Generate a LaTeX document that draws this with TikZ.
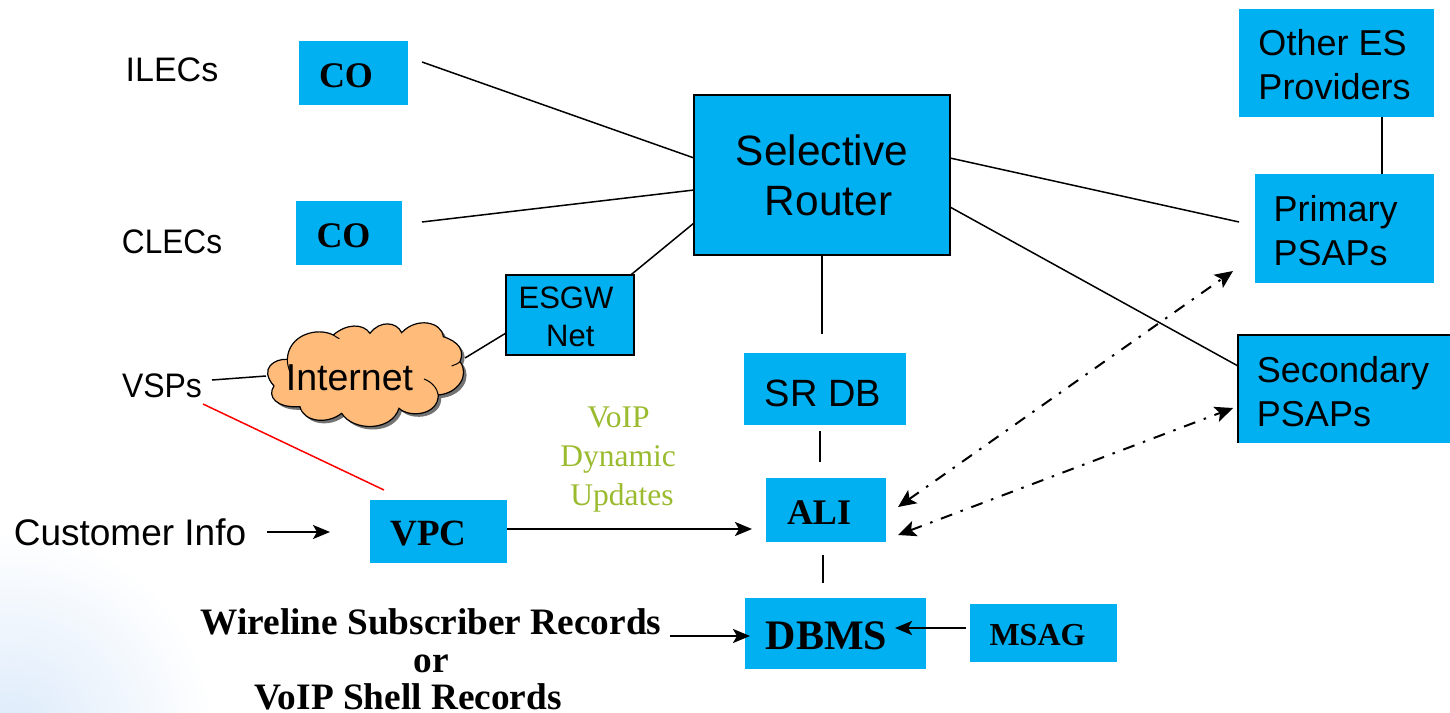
\documentclass[tikz,border=0pt]{standalone}
\usepackage{graphicx}
\usepackage{fontspec}
\setmainfont{Liberation Sans}
\newfontfamily\timesf{Liberation Serif}
\usetikzlibrary{arrows.meta}
\definecolor{cyanbox}{HTML}{00B0F0}
\definecolor{cloudfill}{HTML}{FFBB7A}
\definecolor{voipgreen}{HTML}{9BBB2F}
\definecolor{wash}{HTML}{DCEAFA}
\newcommand{\szs}[2]{\fontsize{#1}{#2}\selectfont}
\newcommand{\lbl}[3]{\raisebox{#2pt}[0pt][0pt]{\makebox[0pt]{\hspace{#1pt}\hspace{#1pt}#3}}}
\newcommand{\two}[2]{\begin{tabular}[t]{@{}l@{}}#1\\#2\end{tabular}}
\tikzset{
  x=1pt,y=-1pt,
  box/.style={fill=cyanbox,inner sep=0pt,outer sep=0pt,text=black},
  framed/.style={box,draw=black,line width=2pt},
  plain/.style={inner sep=0pt,outer sep=0pt,text=black},
  sans/.style={font=\szs{36}{44}},
  serifb/.style={font=\timesf\bfseries\szs{36}{40}},
  conn/.style={draw=black,line width=1.5pt},
  arr/.style={conn,line width=2pt,-{Stealth[length=17pt,width=14pt,inset=4pt]}},
  dd/.style={draw=black,line width=2pt,dash pattern=on 12pt off 9pt on 2.5pt off 9pt,{Stealth[length=18pt,width=16pt,inset=4pt]}-{Stealth[length=18pt,width=16pt,inset=4pt]}},
}
\begin{document}
\begin{tikzpicture}
\useasboundingbox (0,0) rectangle (1450,712);
% soft wash, lower-left corner
\fill[white] (0,0) rectangle (1450,712);
\begin{scope}
\clip (0,0) rectangle (1450,712);
\shade[inner color=wash,outer color=white] (10,735) circle (205);
\end{scope}

% free connector ends
\coordinate (srA) at (694,158);
\coordinate (srB) at (694,190);
\coordinate (srC) at (694,223);
\coordinate (srD) at (950,158);
\coordinate (srE) at (950,207);
\coordinate (co1e) at (422,62);
\coordinate (co2e) at (422,222);
\coordinate (priIn) at (1239,222);
\coordinate (secIn) at (1238,366);
\coordinate (srBot) at (822,255);
\coordinate (dbTop) at (822,334);
\coordinate (dbBot) at (820,431);
\coordinate (aliTop) at (820,462);
\coordinate (aliBot) at (823,555);
\coordinate (dbmsTop) at (823,583);
\coordinate (vspA) at (212,380);
\coordinate (cloudL) at (266,376);
\coordinate (cloudR) at (465,358);
\coordinate (esgwL) at (506,333);
\coordinate (esgwT) at (610,292);
\coordinate (vspR) at (203,404);
\coordinate (vpcR) at (384,490);
\coordinate (ciEnd) at (267,532);
\coordinate (ciTip) at (330,532);
\coordinate (vpcOut) at (507,529);
\coordinate (aliIn) at (752,529);
\coordinate (recOut) at (670,636);
\coordinate (dbmsIn) at (750,636);
\coordinate (msagOut) at (966,628);
\coordinate (dbmsR) at (895,628);
\coordinate (aliD1) at (898,507);
\coordinate (priD) at (1233,271);
\coordinate (aliD2) at (898,535);
\coordinate (secD) at (1233,408);
\coordinate (oesB) at (1382,117);
\coordinate (priT) at (1382,174);

% connectors under the boxes
\draw[conn] (co1e) -- (srA);
\draw[conn] (co2e) -- (srB);
\draw[conn] (esgwT) -- (srC);
\draw[conn] (srD) -- (priIn);
\draw[conn] (srE) -- (secIn);
\draw[conn] (srBot) -- (dbTop);
\draw[conn] (dbBot) -- (aliTop);
\draw[conn] (aliBot) -- (dbmsTop);
\draw[conn] (oesB) -- (priT);
\draw[conn] (vspA) -- (cloudL);
\draw[conn] (cloudR) -- (esgwL);
\draw[draw=red,line width=1.5pt] (vspR) -- (vpcR);

% boxes
\node[box,serifb,minimum width=109pt,minimum height=64pt] (co1) at (353.5,73) {\lbl{-7.5}{-14}{CO}};
\node[box,serifb,minimum width=106pt,minimum height=64pt] (co2) at (349,233) {\lbl{-5.5}{-14}{CO}};
\node[framed,minimum width=256pt,minimum height=160pt,font=\szs{42.4}{50}] (sr) at (822,175) {\lbl{0}{10}{\two{Selective}{\hspace*{29pt}Router}}};
\node[box,sans,minimum width=195pt,minimum height=108pt] (oes) at (1336.5,63) {\lbl{-2}{8}{\two{Other ES}{Providers}}};
\node[box,sans,minimum width=179pt,minimum height=109pt] (pri) at (1344.5,228.5) {\lbl{-9}{7.5}{\two{Primary}{PSAPs}}};
\node[box,sans,minimum width=212pt,minimum height=108pt] (sec) at (1344,389) {\lbl{-1}{7}{\two{Secondary}{PSAPs}}};
\draw[draw=black,line width=1.5pt] (sec.south west) -- (sec.north west) -- (sec.north east);
\node[framed,minimum width=128pt,minimum height=80pt,font=\szs{31}{38}] (esgw) at (570,315) {\lbl{-4}{7}{\begin{tabular}[t]{@{}c@{}}ESGW\\ \ Net\end{tabular}}};
\node[box,font=\szs{38}{44},minimum width=162pt,minimum height=72pt] (srdb) at (825,389) {\lbl{-2}{-17}{SR DB}};
\node[box,serifb,minimum width=120pt,minimum height=64pt] (ali) at (826,510) {\lbl{-7}{-14}{ALI}};
\node[box,font=\timesf\bfseries\szs{37}{40},minimum width=137pt,minimum height=63pt] (vpc) at (438.5,531.5) {\lbl{-10}{-13.5}{VPC}};
\node[box,font=\timesf\bfseries\szs{42}{44},minimum width=181pt,minimum height=71pt] (dbms) at (835.5,633.5) {\lbl{-9}{-15.5}{DBMS}};
\node[box,font=\timesf\bfseries\szs{32}{36},minimum width=147pt,minimum height=58pt] (msag) at (1043.5,633) {\lbl{-6}{-12}{MSAG}};

% arrows over the boxes
\draw[arr] (ciEnd) -- (ciTip);
\draw[arr] (vpcOut) -- (aliIn);
\draw[arr,line width=2.5pt] (recOut) -- (dbmsIn);
\draw[arr,line width=2.5pt] (msagOut) -- (dbmsR);
\draw[dd] (aliD1) -- (priD);
\draw[dd] (aliD2) -- (secD);

% cloud
\begin{scope}[shift={(200,300)},x=0.3333pt,y=-0.3333pt]
\def\cloudpath{(222,258) .. controls (175,205) and (225,175) .. (262,178)
  .. controls (265,105) and (350,80) .. (400,105)
  .. controls (440,70) and (490,70) .. (510,100)
  .. controls (540,60) and (590,65) .. (605,98)
  .. controls (650,50) and (725,65) .. (730,110)
  .. controls (775,125) and (795,150) .. (780,185)
  .. controls (810,225) and (775,280) .. (715,285)
  .. controls (715,345) and (630,355) .. (597,325)
  .. controls (575,395) and (460,395) .. (425,340)
  .. controls (380,375) and (310,365) .. (300,320)
  .. controls (230,325) and (200,290) .. (222,258) -- cycle}
\fill[black!55,shift={(9,9)}] \cloudpath;
\filldraw[fill=cloudfill,draw=black,line width=1.2pt] \cloudpath;
\draw[draw=black,line width=1pt] (262,178) .. controls (262,190) and (265,205) .. (270,215);
\draw[draw=black,line width=1pt] (780,185) .. controls (775,190) and (765,195) .. (755,198);
\draw[draw=black,line width=1pt] (672,237) .. controls (695,245) and (712,265) .. (715,285);
\draw[draw=black,line width=1pt] (400,105) .. controls (405,110) and (412,112) .. (418,116);
\end{scope}
\node[plain,font=\szs{37.5}{40},anchor=base] (inet) at (349.5,390) {Internet};

% free labels
\node[plain,font=\szs{34}{44},anchor=base] (ilec) at (172,81) {ILECs};
\node[plain,font=\szs{34}{44},anchor=base] (clec) at (172,253) {\scalebox{.93}[1]{CLECs}};
\node[plain,font=\szs{34}{44},anchor=base] (vsp) at (162,397) {\scalebox{.94}[1]{VSPs}};
\node[plain,font=\szs{37}{40},anchor=base] (cinfo) at (130,545) {Customer Info};
\node[plain,font=\timesf\szs{31.5}{39},text=voipgreen,align=center,anchor=north] (voip) at (618,407) {\hspace*{1pt}VoIP\\Dynamic\\\hspace*{8pt}Updates};
\node[plain,font=\timesf\bfseries\szs{37.3}{37.5},align=center,anchor=north] (recs) at (431,609) {Wireline Subscriber Records\\or\\VoIP Shell Records\hspace*{46pt}};
\end{tikzpicture}
\end{document}
